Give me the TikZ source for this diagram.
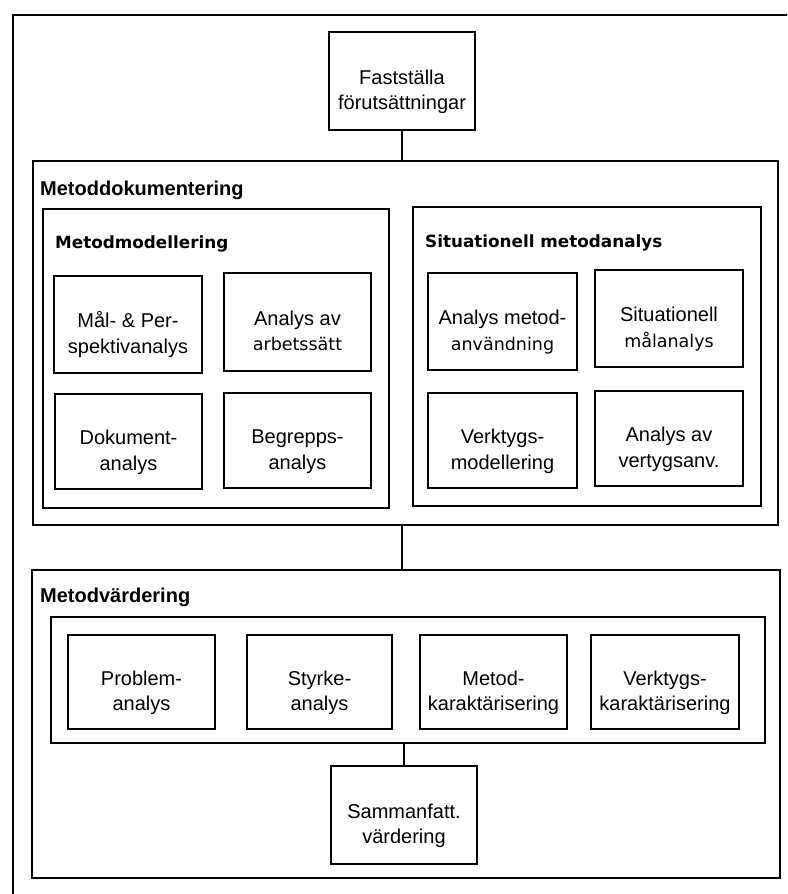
\documentclass[tikz,border=0pt]{standalone}
\usepackage{fontspec}
\setmainfont{Liberation Sans}
\newfontfamily\widefont{DejaVu Sans}
\newcommand\twoline[2]{\strut#1\\\strut#2}
\newcommand\wide[1]{{\widefont\fontsize{17.5}{25.5}\selectfont #1}}
\begin{document}
\begin{tikzpicture}[x=1pt,y=-1pt,
  box/.style={draw=black, line width=2.5pt, rectangle, inner sep=0pt},
  txt/.style={align=center, inner sep=0pt, font=\fontsize{20}{25.5}\selectfont},
  head/.style={anchor=base west, inner sep=0pt, font=\fontsize{20}{24}\selectfont\bfseries},
  subhead/.style={anchor=base west, inner sep=0pt, font=\widefont\fontsize{16.8}{20}\selectfont\bfseries},
  link/.style={line width=2.5pt}]
\useasboundingbox (0,0) rectangle (787,894);

% page frame: only its left and top edges fall on the page
\begin{scope}
  \clip (0,0) rectangle (787,894);
  \draw[line width=2.2pt] (13,900) -- (13,15) -- (800,15);
\end{scope}

% start
\node[box, minimum width=146pt, minimum height=98pt] (fast) at (402,81) {};
\node[txt] (fast-t) at ([yshift=-11pt]fast.center) {\twoline{Fastställa}{förutsättningar}};

% method documentation
\node[box, minimum width=745pt, minimum height=364pt] (doc) at (405.5,343) {};
\node[head] (doc-h) at (40,195) {Metoddokumentering};

\node[box, minimum width=346pt, minimum height=299pt] (mod) at (216,358.5) {};
\node[subhead] (mod-h) at (55,248) {Metodmodellering};

\node[box, minimum width=148pt, minimum height=97pt] (mal) at (128,324.5) {};
\node[txt] (mal-t) at ([yshift=-11pt]mal.center) {\twoline{Mål- \& Per-}{spektivanalys}};
\node[box, minimum width=147pt, minimum height=98pt] (arb) at (297.5,322) {};
\node[txt] (arb-t) at ([yshift=-11pt]arb.center) {\twoline{Analys av}{\wide{arbetssätt}}};
\node[box, minimum width=147pt, minimum height=95pt] (dok) at (128.5,441.5) {};
\node[txt] (dok-t) at ([yshift=-11pt]dok.center) {\twoline{Dokument-}{analys}};
\node[box, minimum width=147pt, minimum height=95pt] (beg) at (297.5,440.5) {};
\node[txt] (beg-t) at ([yshift=-11pt]beg.center) {\twoline{Begrepps-}{analys}};

\node[box, minimum width=348pt, minimum height=299pt] (sit) at (587,356.5) {};
\node[subhead] (sit-h) at (425,247) {Situationell metodanalys};

\node[box, minimum width=149pt, minimum height=97pt] (anv) at (502.5,321.5) {};
\node[txt] (anv-t) at ([yshift=-11pt]anv.center) {\twoline{Analys metod-}{\wide{användning}}};
\node[box, minimum width=148pt, minimum height=97pt] (sma) at (669,318.5) {};
\node[txt] (sma-t) at ([yshift=-11pt]sma.center) {\twoline{Situationell}{\wide{målanalys}}};
\node[box, minimum width=149pt, minimum height=95pt] (vmo) at (502.5,440.5) {};
\node[txt] (vmo-t) at ([yshift=-11pt]vmo.center) {\twoline{Verktygs-}{modellering}};
\node[box, minimum width=148pt, minimum height=95pt] (vanv) at (669,438.5) {};
\node[txt] (vanv-t) at ([yshift=-11pt]vanv.center) {\twoline{Analys av}{vertygsanv.}};

% method evaluation
\node[box, minimum width=748pt, minimum height=308pt] (val) at (406,724) {};
\node[head] (val-h) at (40,602) {Metodvärdering};

\node[box, minimum width=714pt, minimum height=126pt] (ram) at (408,680) {};

\node[box, minimum width=147pt, minimum height=94pt] (pro) at (141.5,682) {};
\node[txt] (pro-t) at ([yshift=-11pt]pro.center) {\twoline{Problem-}{analys}};
\node[box, minimum width=145pt, minimum height=94pt] (sty) at (319.5,682) {};
\node[txt] (sty-t) at ([yshift=-11pt]sty.center) {\twoline{Styrke-}{analys}};
\node[box, minimum width=147pt, minimum height=94pt] (mka) at (493.5,682) {};
\node[txt] (mka-t) at ([yshift=-11pt]mka.center) {\twoline{Metod-}{karaktärisering}};
\node[box, minimum width=148pt, minimum height=94pt] (vka) at (665,682) {};
\node[txt] (vka-t) at ([yshift=-11pt]vka.center) {\twoline{Verktygs-}{karaktärisering}};

\node[box, minimum width=146pt, minimum height=98pt] (sam) at (404,815) {};
\node[txt] (sam-t) at ([yshift=-11pt]sam.center) {\twoline{Sammanfatt.}{värdering}};

% connectors
\draw[link] (fast.south) -- (fast.south |- doc.north);
\draw[link] (fast.south |- doc.south) -- (fast.south |- val.north);
\draw[link] (sam.north) -- (sam.north |- ram.south);
\end{tikzpicture}
\end{document}
